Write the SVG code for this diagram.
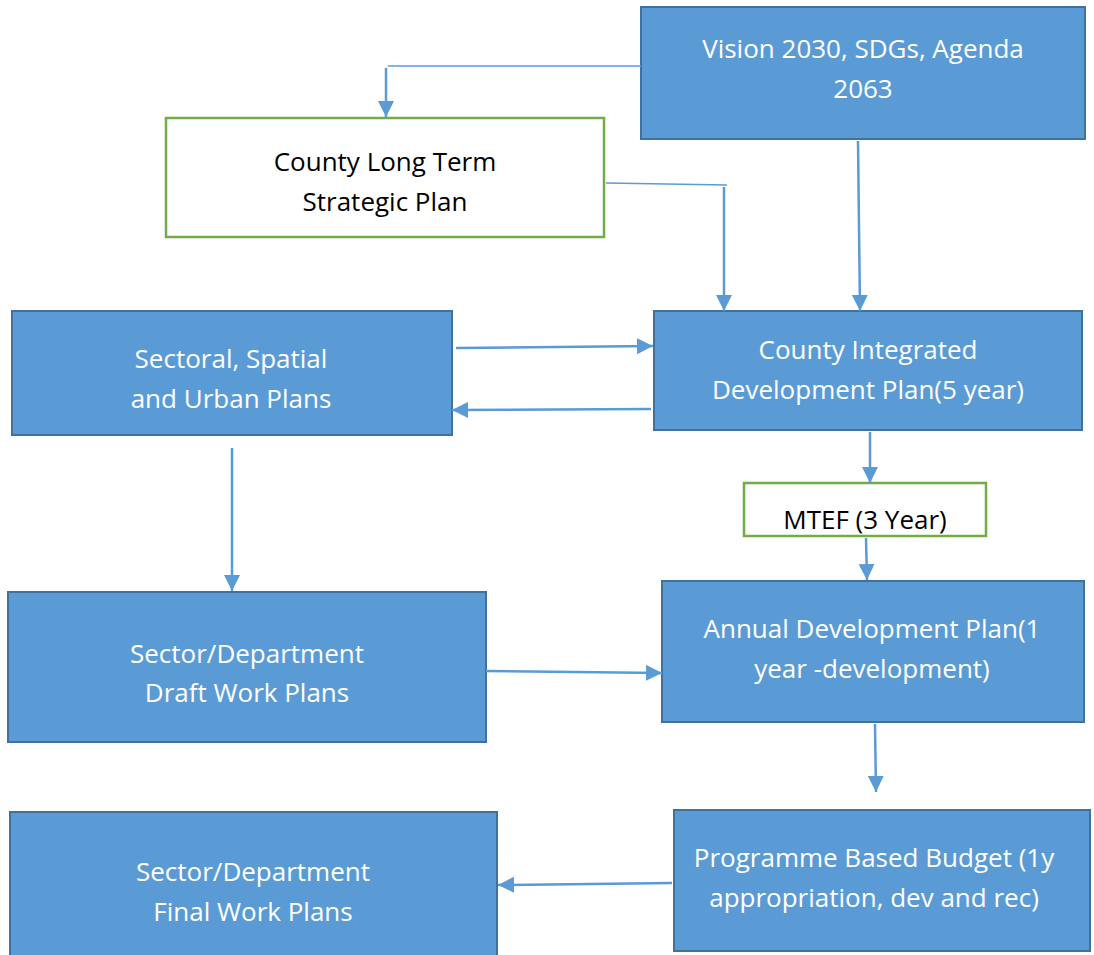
<svg xmlns="http://www.w3.org/2000/svg" width="1094" height="955" viewBox="0 0 1094 955">
<style>
.box{fill:#5B9BD5;stroke:#41719C;stroke-width:2}
.gbox{fill:#FFFFFF;stroke:#70AD47;stroke-width:2.5}
.wt{fill:#FFFFFF;font-family:"Open Sans","Liberation Sans",sans-serif;font-size:26px;text-anchor:middle}
.bt{fill:#000000;font-family:"Open Sans","Liberation Sans",sans-serif;font-size:26px;text-anchor:middle}
.c{stroke:#5B9BD5;stroke-width:2.5;fill:none}
.thin{stroke:#5B9BD5;stroke-width:1.5;fill:none}
</style>
<defs>
<marker id="ah" markerUnits="userSpaceOnUse" markerWidth="18" markerHeight="18" refX="16" refY="8" orient="auto">
<path d="M0,0 L16,8 L0,16 Z" fill="#5B9BD5"/>
</marker>
</defs>
<rect x="0" y="0" width="1094" height="955" fill="#FFFFFF"/>
<g id="vision">
<rect class="box" x="641" y="7" width="444" height="132"/>
<text class="wt" x="863" y="58">Vision 2030, SDGs, Agenda</text>
<text class="wt" x="863" y="98">2063</text>
</g>
<g id="longterm">
<rect class="gbox" x="166" y="118" width="438" height="119"/>
<text class="bt" x="385" y="171">County Long Term</text>
<text class="bt" x="385" y="211">Strategic Plan</text>
</g>
<g id="sectoral">
<rect class="box" x="12" y="311" width="440" height="124"/>
<text class="wt" x="231" y="368">Sectoral, Spatial</text>
<text class="wt" x="231" y="408">and Urban Plans</text>
</g>
<g id="cidp">
<rect class="box" x="654" y="311" width="428" height="119"/>
<text class="wt" x="868" y="359">County Integrated</text>
<text class="wt" x="868" y="399">Development Plan(5 year)</text>
</g>
<g id="mtef">
<rect class="gbox" x="744" y="483" width="242" height="53"/>
<text class="bt" x="865" y="529">MTEF (3 Year)</text>
</g>
<g id="draft">
<rect class="box" x="8" y="592" width="478" height="150"/>
<text class="wt" x="247" y="663">Sector/Department</text>
<text class="wt" x="247" y="702">Draft Work Plans</text>
</g>
<g id="annual">
<rect class="box" x="662" y="581" width="422" height="141"/>
<text class="wt" x="872" y="638">Annual Development Plan(1</text>
<text class="wt" x="872" y="678">year -development)</text>
</g>
<g id="final">
<rect class="box" x="10" y="812" width="487" height="146"/>
<text class="wt" x="253" y="881">Sector/Department</text>
<text class="wt" x="253" y="921">Final Work Plans</text>
</g>
<g id="programme">
<rect class="box" x="674" y="810" width="416" height="141"/>
<text class="wt" x="874" y="867">Programme Based Budget (1y</text>
<text class="wt" x="874" y="907">appropriation, dev and rec)</text>
</g>
<g id="connectors">
<path class="thin" d="M641,66 L388,66"/>
<path class="c" d="M386,68 L386,117" marker-end="url(#ah)"/>
<path class="thin" d="M606,183 L727,185"/>
<path class="c" d="M724,187 L724,311" marker-end="url(#ah)"/>
<path class="c" d="M858,141 L860,311" marker-end="url(#ah)"/>
<path class="c" d="M456,348 L653,346" marker-end="url(#ah)"/>
<path class="c" d="M651,409 L452,410" marker-end="url(#ah)"/>
<path class="c" d="M232,448 L232,591" marker-end="url(#ah)"/>
<path class="c" d="M870,432 L870,483" marker-end="url(#ah)"/>
<path class="c" d="M866,538 L867,580" marker-end="url(#ah)"/>
<path class="c" d="M486,671 L662,673" marker-end="url(#ah)"/>
<path class="c" d="M875,724 L876,792" marker-end="url(#ah)"/>
<path class="c" d="M672,883 L498,885" marker-end="url(#ah)"/>
</g>
</svg>
